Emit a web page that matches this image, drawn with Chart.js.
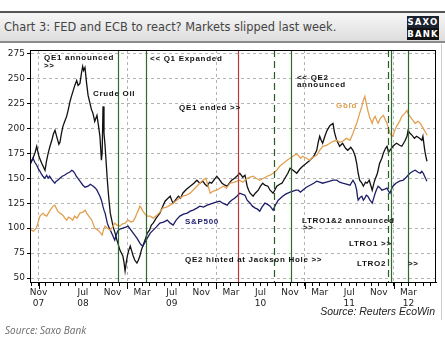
<!DOCTYPE html>
<html>
<head>
<meta charset="utf-8">
<script src="https://cdn.jsdelivr.net/npm/chart.js@4.4.1/dist/chart.umd.min.js"></script>
<style>
  html, body { margin: 0; padding: 0; background: #fff; width: 445px; height: 342px; overflow: hidden; }
  #wrap { position: relative; width: 445px; height: 342px; }
  #bar { position: absolute; left: 0; top: 11px; width: 445px; height: 32px; box-sizing: border-box;
         border-top: 2px solid #555; border-bottom: 2px solid #8a8a8a;
         background: linear-gradient(#f6f6f6, #dedede); }
  #bar .t { position: absolute; left: 4px; top: 7px; font: 11.4px "DejaVu Sans"; color: #444; white-space: nowrap; }
  #logo { position: absolute; left: 407px; top: 16px; width: 32px; height: 24px; background: #111; color: #fff;
          font: bold 8.5px "DejaVu Sans"; letter-spacing: 1.2px; text-align: center; line-height: 12px; }
  #logo .a { background: #1b2230; }
  #edge { position: absolute; left: 441px; top: 44px; width: 1px; height: 276px; background: #ccc; }
  #src1 { position: absolute; right: 10px; top: 305px; font: italic 10.5px "Liberation Sans"; color: #222; }
  #src2 { position: absolute; left: 5px; top: 323px; font: italic 10px "Open Sans"; color: #6a6a6a; }
  canvas { position: absolute; left: 0; top: 0; }
</style>
</head>
<body>
<div id="wrap">
  <canvas id="chart" width="445" height="342"></canvas>
  <div id="bar"><span class="t">Chart 3: FED and ECB to react? Markets slipped last week.</span></div>
  <div id="logo"><div class="a">SAXO</div><div>BANK</div></div>
  <div id="edge"></div>
  <div id="src1">Source: Reuters EcoWin</div>
  <div id="src2">Source: Saxo Bank</div>
</div>
<script>
// x values are months counted from Jan 2008 (0 = Jan 08, 12 = Jan 09 ...)
const X_MIN = -1.15, X_MAX = 53.72;

const yTicks = [50, 75, 100, 125, 150, 175, 200, 225, 250, 275];

const labelMonths = [0, 6, 10, 14, 18, 22, 26, 30, 34, 38, 42, 46, 50];
const labelTexts = [["Nov", "07"], ["Jul", "08"], "Nov", "Mar", ["Jul", "09"], "Nov", "Mar",
                    ["Jul", "10"], "Nov", "Mar", ["Jul", "11"], "Nov", ["Mar", "12"]];

// [month, index value]
const crudeOil = [[-1.05,165],[-0.75,170],[-0.45,176],[-0.24,182],[0.05,172],[0.43,165],[0.88,158],[1.1,168],[1.3,175],[1.55,182],
  [1.8,188],[2.0,194],[2.23,198],[2.45,192],[2.6,188],[2.75,184],[2.9,186],[3.1,195],[3.3,202],[3.55,207],[3.8,212],[4.0,218],
  [4.26,227],[4.45,232],[4.7,238],[4.9,243],[5.16,248],[5.35,243],[5.6,245],[5.8,255],[5.97,262],[6.1,258],[6.28,261],[6.5,245],
  [6.7,233],[6.96,225],[7.15,219],[7.36,215],[7.6,207],[7.9,213],[8.1,203],[8.3,192],[8.5,168],[8.6,175],[8.72,222],[8.85,195],
  [9.0,182],[9.3,148],[9.5,130],[9.7,115],[9.9,108],[10.1,101],[10.35,95],[10.6,88],[10.8,83],[11.0,78],[11.2,75],[11.4,72],
  [11.55,66],[11.7,57],[11.85,65],[12.0,72],[12.2,78],[12.4,82],[12.6,77],[12.8,72],[13.0,68],[13.3,65],[13.5,68],[13.7,72],
  [13.9,78],[14.1,82],[14.4,88],[14.7,95],[15.0,98],[15.25,103],[15.5,105],[15.9,110],[16.4,115],[16.8,122],[17.1,127],[17.5,130],
  [17.8,132],[18.0,128],[18.2,125],[18.5,128],[18.9,132],[19.2,130],[19.5,135],[20.0,139],[20.5,142],[21.0,145],[21.4,148],
  [21.8,145],[22.2,147],[22.5,144],[22.8,142],[23.1,146],[23.4,145],[23.8,149],[24.1,152],[24.5,148],[24.8,145],[25.2,143],
  [25.5,142],[25.8,145],[26.1,148],[26.5,150],[26.8,152],[27.2,155],[27.6,151],[27.9,153],[28.2,142],[28.4,138],[28.6,135],
  [29.0,132],[29.3,135],[29.7,138],[30.0,142],[30.3,145],[30.6,143],[31.0,142],[31.3,138],[31.7,135],[32.0,139],[32.2,142],
  [32.6,144],[32.9,145],[33.3,150],[33.7,155],[34.0,160],[34.4,158],[34.9,155],[35.3,159],[35.7,162],[36.2,165],[36.7,168],
  [37.2,172],[37.6,178],[37.8,186],[38.0,192],[38.2,188],[38.4,185],[38.7,192],[39.0,198],[39.4,203],[39.8,205],[40.0,196],
  [40.3,188],[40.7,182],[41.1,185],[41.5,180],[41.8,178],[42.2,181],[42.5,178],[42.8,172],[43.0,165],[43.2,155],[43.4,148],
  [43.7,145],[43.9,142],[44.2,146],[44.4,145],[44.7,148],[44.9,143],[45.1,138],[45.4,147],[45.8,155],[46.1,165],[46.4,170],
  [46.6,175],[46.9,180],[47.1,182],[47.3,176],[47.5,178],[47.9,182],[48.2,184],[48.4,185],[48.8,183],[49.1,182],[49.5,187],
  [49.8,192],[49.95,198],[50.2,195],[50.5,193],[50.8,190],[51.1,192],[51.5,190],[51.8,188],[51.95,192],[52.2,178],[52.35,172],[52.5,167]];

const gold = [[-1.05,98.5],[-0.7,97],[-0.3,100],[-0.05,106],[0.2,112],[0.6,115],[0.85,113],[1.1,112],[1.5,117],[1.95,122],
  [2.2,123],[2.4,120],[2.6,117],[2.9,115],[3.3,113],[3.55,110],[3.8,108],[4.05,111],[4.3,110],[4.6,108],[4.9,112],[5.2,110],
  [5.6,115],[6.0,116],[6.3,118],[6.5,115],[6.7,113],[7.0,110],[7.2,108],[7.4,104],[7.6,100],[8.0,98],[8.3,96],[8.6,93],[8.8,99],
  [9.0,102],[9.3,100],[9.7,98],[10.0,101],[10.3,105],[10.6,103],[11.0,102],[11.3,104],[11.7,105],[12.1,108],[12.5,106],[12.8,107],
  [13.1,111],[13.3,115],[13.5,118],[13.7,122],[13.9,120],[14.1,117],[14.4,114],[14.7,112],[15.1,112],[15.5,110],[16.0,113],
  [16.4,116],[16.8,120],[17.3,121],[17.8,123],[18.2,125],[18.7,128],[19.1,130],[19.5,132],[20.0,133],[20.5,135],[21.0,139],
  [21.4,142],[21.8,145],[22.2,148],[22.6,150],[22.9,143],[23.2,135],[23.6,137],[24.1,138],[24.5,140],[25.0,142],[25.4,140],
  [25.9,145],[26.5,146],[27.2,148],[27.6,146],[28.2,150],[28.6,151],[29.0,152],[29.4,150],[29.9,148],[30.4,150],[30.9,152],
  [31.3,153],[31.7,155],[32.2,158],[32.6,162],[33.1,165],[33.6,168],[34.0,170],[34.4,172],[34.8,174],[35.1,173],[35.4,170],
  [35.7,172],[36.2,170],[36.7,168],[37.1,171],[37.6,173],[38.0,178],[38.4,182],[38.9,183],[39.4,185],[39.8,187],[40.3,188],
  [40.7,186],[41.1,187],[41.6,190],[42.1,188],[42.5,195],[43.0,205],[43.4,215],[43.7,222],[43.9,228],[44.1,232],[44.3,225],
  [44.5,218],[44.8,210],[45.1,205],[45.3,210],[45.5,212],[45.7,208],[45.9,205],[46.2,210],[46.6,213],[46.9,208],[47.1,205],
  [47.3,200],[47.5,195],[47.7,193],[47.9,192],[48.1,197],[48.4,202],[48.8,207],[49.1,212],[49.5,215],[49.8,218],[50.0,214],
  [50.2,212],[50.6,208],[50.9,205],[51.3,207],[51.6,205],[52.0,200],[52.3,196],[52.5,193]];

const sp500 = [[-1.05,165],[-0.9,168],[-0.75,170],[-0.5,166],[-0.24,163],[0.0,159],[0.2,157],[0.4,154],[0.6,152],[0.85,150],
  [1.1,153],[1.3,150],[1.5,152],[1.85,148],[2.2,145],[2.4,147],[2.6,148],[2.9,150],[3.2,152],[3.5,153],[3.9,155],[4.2,156],
  [4.5,158],[4.7,157],[4.9,155],[5.1,152],[5.3,150],[5.6,147],[6.0,143],[6.3,141],[6.7,142],[7.0,144],[7.4,142],[7.7,140],
  [7.9,138],[8.1,135],[8.3,132],[8.5,128],[8.7,122],[8.85,118],[9.0,115],[9.15,110],[9.3,105],[9.5,101],[9.7,98],[10.0,93],
  [10.3,88],[10.5,93],[10.7,97],[11.0,99],[11.4,100],[11.8,101],[12.1,102],[12.4,99],[12.6,97],[13.0,93],[13.3,90],[13.7,85],
  [13.9,83],[14.1,82],[14.4,86],[14.7,90],[15.1,95],[15.5,98],[15.9,101],[16.4,105],[16.9,106],[17.4,108],[17.8,105],[18.2,103],
  [18.6,108],[19.1,112],[19.6,114],[20.1,115],[20.5,117],[20.9,118],[21.4,120],[21.8,122],[22.3,121],[22.8,123],[23.2,124],
  [23.6,125],[24.0,126],[24.5,127],[24.9,125],[25.5,123],[25.8,126],[26.1,128],[26.5,130],[26.8,132],[27.2,135],[27.5,134],
  [27.9,133],[28.2,128],[28.6,125],[28.9,122],[29.3,120],[29.6,119],[29.9,117],[30.2,121],[30.6,125],[30.9,124],[31.3,122],
  [31.7,118],[32.0,123],[32.4,128],[32.7,130],[33.0,132],[33.4,134],[33.7,135],[34.0,136],[34.4,137],[34.8,138],[35.1,138],
  [35.4,136],[35.7,138],[36.2,141],[36.7,143],[37.2,145],[37.6,147],[38.0,146],[38.4,145],[38.9,146],[39.4,147],[39.8,148],
  [40.3,148],[40.7,146],[41.1,145],[41.6,144],[42.1,143],[42.5,148],[42.8,144],[43.0,138],[43.1,132],[43.2,128],[43.5,131],
  [43.7,132],[43.9,128],[44.1,130],[44.3,133],[44.5,132],[44.8,128],[45.1,125],[45.3,130],[45.5,135],[45.7,139],[45.9,142],
  [46.2,140],[46.4,138],[46.8,139],[47.1,140],[47.3,137],[47.5,135],[47.7,139],[47.9,142],[48.3,145],[48.8,147],[49.3,148],
  [49.7,151],[50.2,155],[50.6,157],[50.9,158],[51.3,156],[51.6,155],[51.8,157],[52.0,155],[52.3,150],[52.5,147]];

// policy events: QE1 announced, QE1 expanded, QE1 ended, Jackson Hole, QE2 announced, LTRO announced, LTRO1, LTRO2
const eventMonths = [10.8, 14.56, 26.97, 31.87, 34.1, 47.25, 47.68, 49.95];
const eventColors = ["#2f6b2f", "#2f6b2f", "#b83a3a", "#2a5a2a", "#2f6b2f", "#2a5a2a", "#2f6b2f", "#2f6b2f"];
const eventDashed = [false, false, false, true, false, true, false, false];

// chart notes: text, month, value (left edge, middle)
const noteTexts = ["QE1 announced", ">>", "Crude Oil", "<< Q1 Expanded", "QE1 ended >>", "<< QE2", "announced", "Gold",
  "S&P500", "LTRO1&2 announced", ">>", "QE2 hinted at Jackson Hole >>", "LTRO1 >>", "LTRO2", ">>"];
const noteMonths = [0.74, 0.74, 7.36, 15.07, 18.99, 34.93, 34.93, 40.2, 19.8, 35.6, 35.74, 19.8, 41.96, 43.04, 49.93];
const noteValues = [270.5, 263, 234.5, 269.5, 220.5, 250.5, 243.5, 222.5, 106.5, 107.5, 100.5, 68.5, 84.5, 64.5, 64.5];
const noteColors = ["#111", "#111", "#111", "#111", "#111", "#111", "#111", "#e0a050",
  "#1c1c6a", "#111", "#111", "#111", "#111", "#111", "#111"];

const monthTicks = Array.from({ length: 55 }, (_, i) => i - 1);

function toXY(arr) {
  return arr.map(p => ({ x: p[0], y: p[1] }));
}

const framePlugin = {
  id: "frame",
  afterDraw(chart) {
    const { ctx, chartArea: a, scales } = chart;
    ctx.save();
    // longer ticks at the start of each year
    ctx.strokeStyle = "#000";
    ctx.lineWidth = 1;
    monthTicks.filter(m => m % 12 === 0).forEach(m => {
      const x = Math.round(scales.x.getPixelForValue(m)) + 0.5;
      ctx.beginPath();
      ctx.moveTo(x, a.bottom);
      ctx.lineTo(x, a.bottom + 7);
      ctx.stroke();
    });
    ctx.strokeRect(a.left + 0.5, a.top + 0.5, a.right - a.left - 1, a.bottom - a.top);
    ctx.restore();
  }
};

const eventPlugin = {
  id: "events",
  afterDatasetsDraw(chart) {
    const { ctx, chartArea: a, scales } = chart;
    ctx.save();
    eventMonths.forEach((m, i) => {
      const x = Math.round(scales.x.getPixelForValue(m)) + 0.5;
      ctx.strokeStyle = eventColors[i];
      ctx.lineWidth = 1.2;
      ctx.setLineDash(eventDashed[i] ? [7, 4] : []);
      ctx.beginPath();
      ctx.moveTo(x, a.top);
      ctx.lineTo(x, a.bottom);
      ctx.stroke();
    });
    ctx.restore();
  }
};

const notePlugin = {
  id: "notes",
  afterDraw(chart) {
    const { ctx, scales } = chart;
    ctx.save();
    ctx.font = "bold 8px 'Liberation Sans'";
    ctx.letterSpacing = "0.7px";
    ctx.textAlign = "left";
    ctx.textBaseline = "middle";
    noteTexts.forEach((t, i) => {
      ctx.fillStyle = noteColors[i];
      ctx.fillText(t, scales.x.getPixelForValue(noteMonths[i]), scales.y.getPixelForValue(noteValues[i]));
    });
    ctx.restore();
  }
};

const line = (data, color) => ({
  data: toXY(data), borderColor: color, borderWidth: 1.3, pointRadius: 0, tension: 0, fill: false
});

new Chart(document.getElementById("chart"), {
  type: "line",
  data: {
    datasets: [
      { label: "Gold", ...line(gold, "rgb(226,160,82)") },
      { label: "S&P500", ...line(sp500, "rgb(28,28,104)") },
      { label: "Crude Oil", ...line(crudeOil, "#111") }
    ]
  },
  options: {
    responsive: false,
    animation: false,
    devicePixelRatio: 1,
    layout: { padding: { top: 50, right: 9, left: 0, bottom: 0 } },
    plugins: { legend: { display: false }, tooltip: { enabled: false } },
    scales: {
      x: {
        type: "linear",
        min: X_MIN,
        max: X_MAX,
        afterBuildTicks: s => { s.ticks = monthTicks.map(v => ({ value: v })); },
        afterFit: s => { s.height = 60; },
        ticks: {
          autoSkip: false, maxRotation: 0, minRotation: 0, padding: 1, color: "#222",
          font: { family: "DejaVu Sans", size: 9 },
          callback: v => {
            const i = labelMonths.indexOf(v);
            return i >= 0 ? labelTexts[i] : "";
          }
        },
        grid: {
          color: c => (c.tick && c.tick.value % 12 === 0) ? "#b4b4b4" : "rgba(0,0,0,0)",
          tickColor: "#000", tickLength: 4, lineWidth: 1
        },
        border: { color: "#000", width: 1, dash: [3, 3] }
      },
      y: {
        min: 46,
        max: 278.5,
        afterBuildTicks: s => { s.ticks = yTicks.map(v => ({ value: v })); },
        afterFit: s => { s.width = 30; },
        ticks: { padding: 2, color: "#222", font: { family: "DejaVu Sans", size: 9 } },
        grid: { color: "#b4b4b4", tickColor: "#000", tickLength: 3, lineWidth: 1 },
        border: { color: "#000", width: 1, dash: [3, 3] }
      }
    }
  },
  plugins: [eventPlugin, notePlugin, framePlugin]
});
</script>
</body>
</html>
